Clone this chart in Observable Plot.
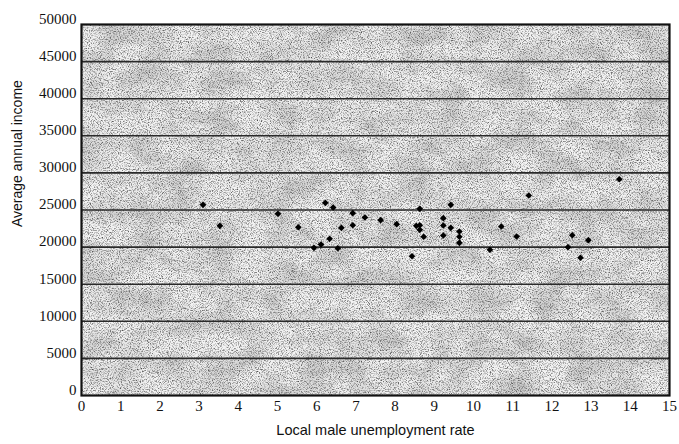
<!DOCTYPE html>
<html>
<head>
<meta charset="utf-8">
<script src="https://cdn.jsdelivr.net/npm/d3@7"></script>
<script src="https://cdn.jsdelivr.net/npm/@observablehq/plot@0.6"></script>
<style>
  html, body { margin: 0; padding: 0; background: #ffffff; }
</style>
</head>
<body>
<div id="chart"></div>
<script>
// Local male unemployment rate (%)
const unemployment = [3.10, 3.53, 5.01, 5.53, 5.93, 6.11, 6.22, 6.33, 6.42, 6.54,
  6.63, 6.92, 6.92, 7.23, 7.63, 8.04, 8.43, 8.54, 8.63, 8.63,
  8.63, 8.73, 9.23, 9.23, 9.23, 9.42, 9.42, 9.64, 9.64, 9.64,
  10.42, 10.71, 11.10, 11.41, 12.41, 12.52, 12.73, 12.93, 13.72];
// Average annual income
const income = [25700, 22870, 24490, 22680, 19900, 20350, 25970, 21120, 25340, 19850,
  22600, 24570, 22950, 23990, 23630, 23090, 18770, 22870, 22950, 22330,
  25160, 21390, 23900, 22910, 21560, 25700, 22600, 22100, 21390, 20580,
  19640, 22780, 21430, 26950, 19990, 21600, 18560, 20930, 29150];
const xTicks = [0,1,2,3,4,5,6,7,8,9,10,11,12,13,14,15];
const yTicks = [0,5000,10000,15000,20000,25000,30000,35000,40000,45000,50000];
const gridLevels = [5000,10000,15000,20000,25000,30000,35000,40000,45000];
const xTitle = "Local male unemployment rate";
const yTitle = "Average annual income";

const data = unemployment.map((u, i) => ({u, inc: income[i]}));

const svg = Plot.plot({
  width: 679,
  height: 444,
  marginLeft: 81,
  marginRight: 10,
  marginTop: 24,
  marginBottom: 49,
  style: {fontFamily: "'Liberation Serif', serif", fontSize: "15px", color: "#111", background: "#ffffff"},
  x: {domain: [0, 15]},
  y: {domain: [0, 50000]},
  marks: [
    Plot.frame({fill: "#e4e4e4", stroke: "none"}),
    Plot.ruleY(gridLevels, {stroke: "#2a2a2a", strokeWidth: 1.6}),
    Plot.frame({stroke: "#111", strokeWidth: 2.2}),
    Plot.axisX({ticks: xTicks, tickSize: 0, tickPadding: 5, tickFormat: d => String(d),
      label: null, fill: "#111", fontFamily: "Liberation Serif", fontSize: 15}),
    Plot.axisY({ticks: yTicks, tickSize: 0, tickPadding: 5, tickFormat: d => String(d),
      label: null, dy: -5.5, fill: "#111", fontFamily: "Liberation Serif", fontSize: 15}),
    Plot.text([xTitle], {frameAnchor: "bottom", lineAnchor: "middle", dy: 35,
      fontFamily: "Liberation Sans", fontSize: 14.5, fill: "#111"}),
    Plot.text([yTitle], {frameAnchor: "left", rotate: -90, dx: -63.5, dy: 17,
      fontFamily: "Liberation Sans", fontSize: 14, fill: "#111"}),
    Plot.dot(data, {x: "u", y: "inc", symbol: "diamond2", r: 3, fill: "#000", stroke: "none"})
  ]
});

// grainy scanned-paper texture on the plot background
const sel = d3.select(svg);
sel.insert("defs", ":first-child").html(
  `<filter id="grain" x="0" y="0" width="100%" height="100%" color-interpolation-filters="sRGB">
     <feTurbulence type="fractalNoise" baseFrequency="0.9" numOctaves="2" seed="7" result="fine"/>
     <feColorMatrix in="fine" type="matrix" values="0 0 0 0 0.3  0 0 0 0 0.3  0 0 0 0 0.3  2.4 0 0 0 -1.08" result="specks"/>
     <feTurbulence type="fractalNoise" baseFrequency="0.03 0.045" numOctaves="3" seed="3" result="coarse"/>
     <feColorMatrix in="coarse" type="matrix" values="0 0 0 0 0.6  0 0 0 0 0.6  0 0 0 0 0.6  0.9 0 0 0 -0.32" result="blotch"/>
     <feFlood flood-color="#f3f3f3" result="base"/>
     <feComposite in="blotch" in2="base" operator="over" result="mix1"/>
     <feComposite in="specks" in2="mix1" operator="over" result="mix2"/>
     <feComposite in="mix2" in2="SourceGraphic" operator="in"/>
   </filter>`);
document.getElementById("chart").appendChild(svg);
const frames = svg.querySelectorAll("[aria-label='frame']");
if (frames.length) {
  const f = frames[0];
  const r = f.tagName === "rect" ? f : f.querySelector("rect");
  if (r) r.setAttribute("filter", "url(#grain)");
}
</script>
</body>
</html>
